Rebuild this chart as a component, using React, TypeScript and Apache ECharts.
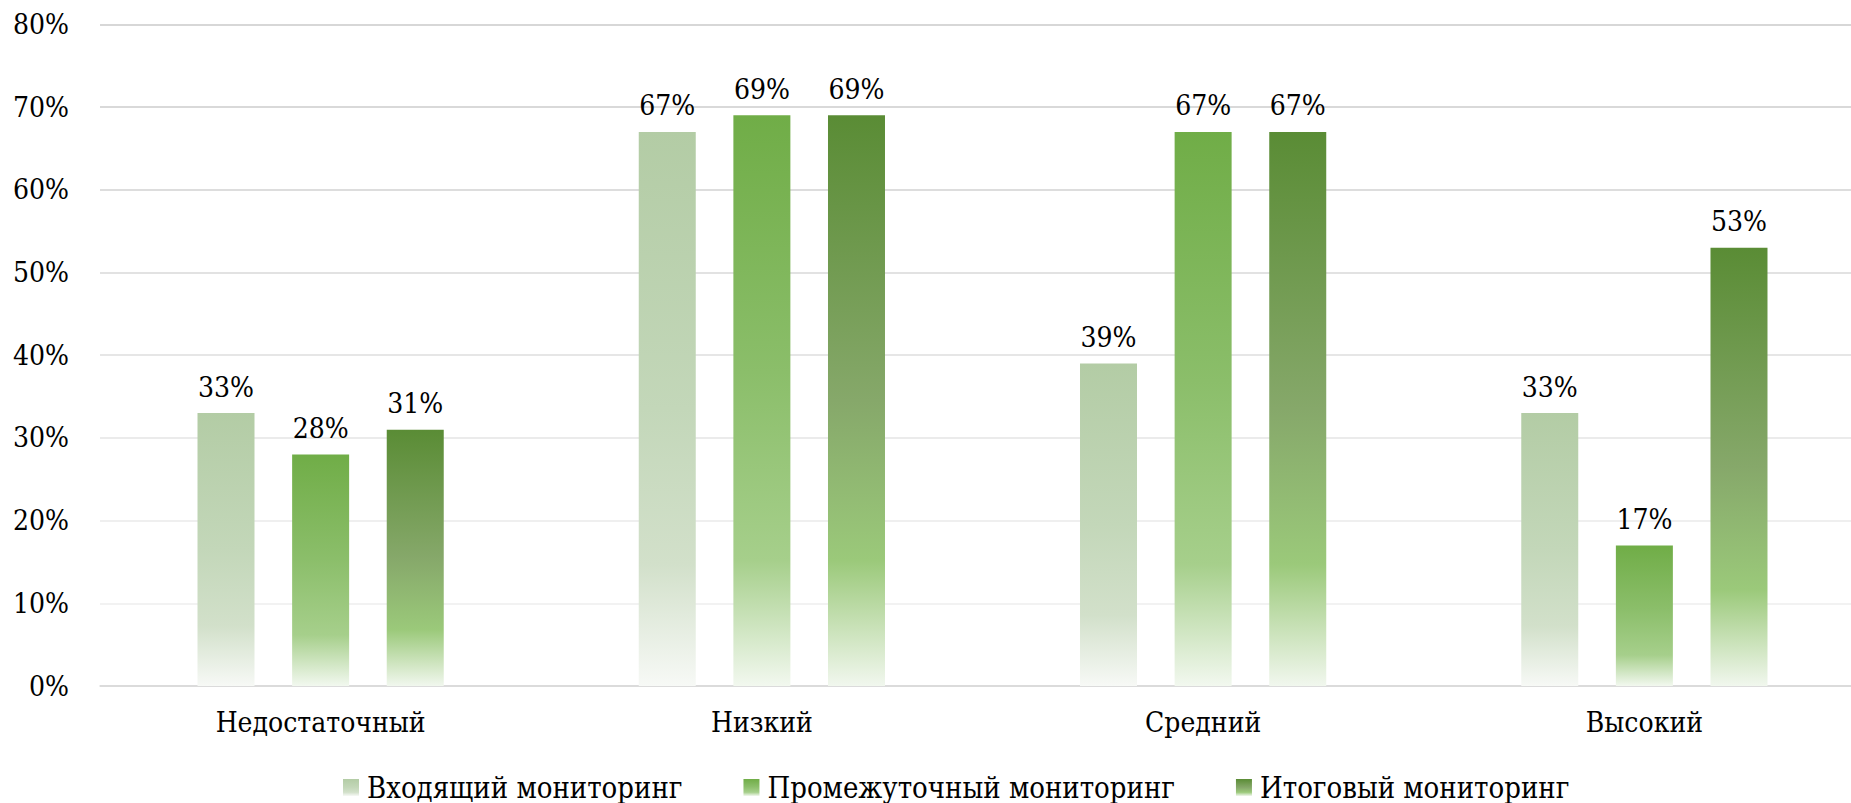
import React, { useEffect, useRef } from "react";
import * as echarts from "echarts";

const categories = ["Недостаточный", "Низкий", "Средний", "Высокий"];
const seriesNames = ["Входящий мониторинг", "Промежуточный мониторинг", "Итоговый мониторинг"];
const incoming = [33, 67, 39, 33];
const intermediate = [28, 69, 67, 17];
const finalValues = [31, 69, 67, 53];
const yTicks = [0, 10, 20, 30, 40, 50, 60, 70, 80];

const FONT = "DejaVu Serif Condensed, DejaVu Serif";
const FS = 28;

const grad = (stops: [number, string][]) =>
  new echarts.graphic.LinearGradient(
    0, 0, 0, 1,
    stops.map(([offset, color]) => ({ offset, color }))
  );

const fills = [
  grad([[0, "#b3cca5"], [0.5, "#c3d7b9"], [0.78, "#d2e0ca"], [1, "#f7f9f6"]]),
  grad([[0, "#70ad47"], [0.45, "#8bbe6a"], [0.78, "#a6cf8b"], [1, "#f2f8ef"]]),
  grad([[0, "#5a8c35"], [0.5, "#86a86a"], [0.78, "#9bc97a"], [1, "#f1f7ee"]]),
];

export default function App() {
  const ref = useRef<HTMLDivElement>(null);
  useEffect(() => {
    if (!ref.current) return;
    document.documentElement.style.overflow = "hidden";
    const chart = echarts.init(ref.current, undefined, { renderer: "svg" });
    const data = [incoming, intermediate, finalValues];
    chart.setOption({
      animation: false,
      textStyle: { fontFamily: FONT },
      grid: { left: 100, right: 0, top: 24.4, bottom: 117, containLabel: false },
      legend: {
        left: 338,
        top: 768,
        itemWidth: 16,
        itemHeight: 17,
        itemGap: 61,
        icon: "rect",
        data: seriesNames,
        textStyle: { fontFamily: FONT, fontSize: 29, color: "#000", padding: [0, 0, 0, 3] },
      },
      xAxis: {
        type: "category",
        data: categories,
        axisLine: { show: true, lineStyle: { color: "#d9d9d9", width: 1.5 } },
        axisTick: { show: false },
        axisLabel: { fontFamily: FONT, fontSize: FS, color: "#000", margin: 22 },
      },
      yAxis: {
        type: "value",
        min: yTicks[0],
        max: yTicks[yTicks.length - 1],
        interval: 10,
        axisLine: { show: false },
        axisTick: { show: false },
        axisLabel: {
          fontFamily: FONT,
          fontSize: FS,
          color: "#000",
          margin: 31,
          formatter: (v: number) => `${v}%`,
        },
        splitLine: {
          lineStyle: {
            width: 1.5,
            color: ["#d9d9d9", "#eeeeee", "#eaeaea", "#e4e4e4", "#dedede", "#d8d8d8", "#d2d2d2", "#cdcdcd", "#cacaca"],
          },
        },
      },
      series: seriesNames.map((name, i) => ({
        name,
        type: "bar",
        data: data[i],
        barWidth: 57,
        barGap: "66%",
        itemStyle: { color: fills[i] },
        label: {
          show: true,
          position: "top",
          distance: 12,
          fontFamily: FONT,
          fontSize: FS,
          color: "#000",
          formatter: (p: any) => `${p.value}%`,
        },
      })),
    });
    return () => chart.dispose();
  }, []);
  return (
    <div
      ref={ref}
      style={{ position: "fixed", left: 0, top: 0, width: 1865, height: 803, background: "#fff" }}
    />
  );
}
